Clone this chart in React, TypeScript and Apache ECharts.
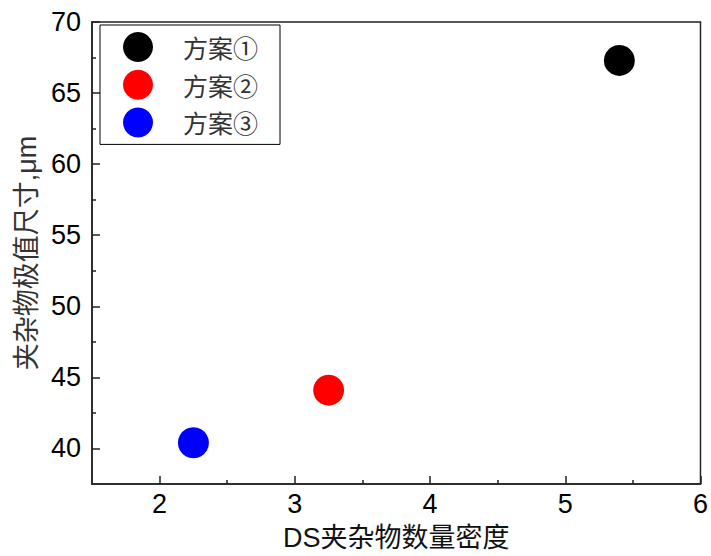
import React, { useEffect, useRef } from "react";
import * as echarts from "echarts";

const seriesNames = ["方案①", "方案②", "方案③"];
const seriesColors = ["#000000", "#ff0000", "#0000ff"];
const xValues = [5.4, 3.25, 2.25];
const yValues = [67.3, 44.1, 40.4];
const xMajorTicks = [2, 3, 4, 5, 6];
const xMinorTicks = [2.5, 3.5, 4.5, 5.5];
const yMajorTicks = [40, 45, 50, 55, 60, 65, 70];
const yMinorTicks = [42.5, 47.5, 52.5, 57.5, 62.5, 67.5];
const xTitle = "DS夹杂物数量密度";
const yTitle = "夹杂物极值尺寸,μm";

const numFont = "'Liberation Sans', Arial, sans-serif";
const cjkFont = "'Liberation Sans', 'Noto Sans CJK SC', sans-serif";
const legendFont = "'Noto Sans CJK SC', sans-serif";

export default function App() {
  const ref = useRef<HTMLDivElement>(null);
  useEffect(() => {
    if (!ref.current) return;
    const chart = echarts.init(ref.current, null, { renderer: "svg" });
    const axisLine = { show: true, lineStyle: { color: "#222", width: 1.5 } };
    chart.setOption({
      animation: false,
      backgroundColor: "#fff",
      grid: {
        left: 92,
        right: 8,
        top: 22,
        bottom: 72,
        show: true,
        borderColor: "#222",
        borderWidth: 1.5,
      },
      legend: {
        left: 100,
        top: 25,
        orient: "vertical",
        icon: "circle",
        itemWidth: 30,
        itemHeight: 30,
        itemGap: 7.7,
        padding: [7, 22, 7, 23],
        borderColor: "#000",
        borderWidth: 1,
        textStyle: { fontSize: 25, lineHeight: 30, color: "#333", fontFamily: legendFont, padding: [0, 0, 0, 25] },
        data: seriesNames,
      },
      xAxis: [
        {
          type: "value",
          min: 1.5,
          max: 6,
          position: "bottom",
          name: xTitle,
          nameLocation: "middle",
          nameGap: 40,
          nameTextStyle: { fontSize: 27, color: "#111", fontFamily: cjkFont },
          axisLine,
          splitLine: { show: false },
          axisTick: { show: true, inside: true, length: 8, customValues: xMajorTicks, lineStyle: { color: "#222", width: 1.5 } },
          axisLabel: { show: true, customValues: xMajorTicks, margin: 6, fontSize: 27, color: "#000", fontFamily: numFont },
        },
        {
          type: "value",
          min: 1.5,
          max: 6,
          position: "bottom",
          axisLine: { show: false },
          splitLine: { show: false },
          axisTick: { show: true, inside: true, length: 4, customValues: xMinorTicks, lineStyle: { color: "#222", width: 1.5 } },
          axisLabel: { show: false },
        },
      ],
      yAxis: [
        {
          type: "value",
          min: 37.5,
          max: 70,
          position: "left",
          name: yTitle,
          nameLocation: "middle",
          nameGap: 52,
          nameTextStyle: { fontSize: 27, color: "#333", fontFamily: cjkFont },
          axisLine,
          splitLine: { show: false },
          axisTick: { show: true, inside: true, length: 8, customValues: yMajorTicks, lineStyle: { color: "#222", width: 1.5 } },
          axisLabel: { show: true, customValues: yMajorTicks, margin: 11, fontSize: 27, color: "#000", fontFamily: numFont },
        },
        {
          type: "value",
          min: 37.5,
          max: 70,
          position: "left",
          axisLine: { show: false },
          splitLine: { show: false },
          axisTick: { show: true, inside: true, length: 4, customValues: yMinorTicks, lineStyle: { color: "#222", width: 1.5 } },
          axisLabel: { show: false },
        },
      ],
      series: seriesNames.map((name, i) => ({
        name,
        type: "scatter",
        xAxisIndex: 0,
        yAxisIndex: 0,
        symbol: "circle",
        symbolSize: 31,
        itemStyle: { color: seriesColors[i], opacity: 1 },
        data: [[xValues[i], yValues[i]]],
      })),
    });
    return () => chart.dispose();
  }, []);
  return <div ref={ref} style={{ width: 711, height: 556, position: "absolute", left: 0, top: 0 }} />;
}
